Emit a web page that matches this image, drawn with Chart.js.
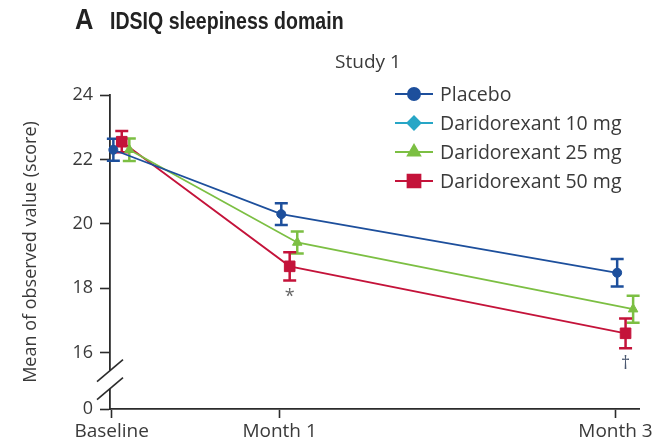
<!DOCTYPE html>
<html>
<head>
<meta charset="utf-8">
<title>IDSIQ sleepiness domain</title>
<script src="https://cdn.jsdelivr.net/npm/chart.js@4"></script>
<style>
  html, body { margin: 0; padding: 0; background: #fff; }
  #wrap { width: 663px; height: 448px; }
</style>
</head>
<body>
<div id="wrap"><canvas id="sleepChart" width="663" height="448"></canvas></div>
<script>
// Visits (months from baseline) and their labels
const visits = [0, 1, 3];
const visitLabels = ['Baseline', 'Month 1', 'Month 3'];

// Mean of observed value (score) and error bar half-length per visit
const placeboMean = [22.3, 20.3, 18.48];
const placeboErr = [0.34, 0.34, 0.43];
const dari10Mean = [];
const dari10Err = [];
const dari25Mean = [22.3, 19.42, 17.35];
const dari25Err = [0.35, 0.34, 0.42];
const dari50Mean = [22.55, 18.68, 16.6];
const dari50Err = [0.33, 0.44, 0.46];
const dari50Marks = ['', '*', '\u2020'];

// y axis ticks (axis is broken between 0 and 16)
const yTicks = [16, 18, 20, 22, 24];
const yZeroLabel = '0';

const FONT = "'Open Sans', sans-serif";
const TEXT = '#3a3a3a';
const AXIS = '#2b2b2b';
const Y_BOTTOM = 14.25; // where the "0" sits below the break

function points(mean, err, dodge) {
    return mean.map((v, i) => ({ x: visits[i] + dodge, y: v, err: err[i] }));
}

function makeSet(label, mean, err, color, style, radius, dodge) {
    return {
        label: label,
        data: points(mean, err, dodge),
        showLine: true,
        borderColor: color,
        backgroundColor: color,
        borderWidth: 1.8,
        pointStyle: style,
        pointRadius: radius,
        pointBorderWidth: 1,
        legendRadius: radius + 1.5,
        clip: false
    };
}

// draw text squeezed to a narrower width (condensed heading)
function squeezedText(ctx, text, x, y, sx) {
    ctx.save();
    ctx.translate(x, y);
    ctx.scale(sx, 1);
    ctx.fillText(text, 0, 0);
    ctx.restore();
}

// error bars with caps
const errorBars = {
    id: 'errorBars',
    beforeDatasetsDraw(chart) {
        const { ctx, scales: { x, y } } = chart;
        chart.data.datasets.forEach(ds => {
            ctx.save();
            ctx.strokeStyle = ds.borderColor;
            ctx.lineWidth = 2.5;
            ds.data.forEach(p => {
                const px = x.getPixelForValue(p.x);
                const top = y.getPixelForValue(p.y + p.err);
                const bot = y.getPixelForValue(p.y - p.err);
                ctx.beginPath();
                ctx.moveTo(px, top); ctx.lineTo(px, bot);
                ctx.moveTo(px - 6.5, top); ctx.lineTo(px + 6.5, top);
                ctx.moveTo(px - 6.5, bot); ctx.lineTo(px + 6.5, bot);
                ctx.stroke();
            });
            ctx.restore();
        });
    },
    afterDatasetsDraw(chart) {
        // significance marks under the 50 mg error bars
        const { ctx, scales: { x, y } } = chart;
        const ds = chart.data.datasets[3];
        ctx.save();
        ctx.font = '18px ' + FONT;
        ctx.textAlign = 'center';
        ctx.textBaseline = 'top';
        ds.data.forEach((p, i) => {
            if (!dari50Marks[i]) return;
            ctx.fillStyle = dari50Marks[i] === '*' ? '#666' : '#4b5870';
            ctx.fillText(dari50Marks[i], x.getPixelForValue(p.x), y.getPixelForValue(p.y - p.err) + 7);
        });
        ctx.restore();
    }
};

// titles, legend and the axis break
const decorations = {
    id: 'decorations',
    afterDraw(chart) {
        const { ctx, chartArea, scales: { y } } = chart;
        ctx.save();

        // title
        ctx.fillStyle = '#222';
        ctx.textBaseline = 'alphabetic';
        ctx.font = "bold 29px 'Liberation Sans', sans-serif";
        squeezedText(ctx, 'A', 75, 29, 0.88);
        ctx.font = "bold 23px 'Liberation Sans', sans-serif";
        squeezedText(ctx, 'IDSIQ sleepiness domain', 110, 29, 0.85);

        ctx.fillStyle = TEXT;
        ctx.font = '19px ' + FONT;
        ctx.textAlign = 'center';
        ctx.fillText('Study 1', 368, 68);

        // legend
        ctx.textAlign = 'left';
        ctx.textBaseline = 'middle';
        ctx.font = '19.5px ' + FONT;
        chart.data.datasets.forEach((ds, i) => {
            const ly = 94 + i * 29;
            ctx.strokeStyle = ds.borderColor;
            ctx.lineWidth = 2;
            ctx.beginPath();
            ctx.moveTo(395, ly); ctx.lineTo(433, ly);
            ctx.stroke();
            ctx.fillStyle = ds.backgroundColor;
            Chart.helpers.drawPoint(ctx, { pointStyle: ds.pointStyle, radius: ds.legendRadius, borderWidth: 1 }, 414, ly);
            ctx.fillStyle = TEXT;
            ctx.fillText(ds.label, 440, ly + 1);
        });

        // broken y axis between 0 and 16
        const left = chartArea.left;
        const y16 = y.getPixelForValue(yTicks[0]);
        ctx.fillStyle = '#fff';
        ctx.fillRect(left - 3, y16 + 18, 6, 18);
        ctx.strokeStyle = AXIS;
        ctx.lineWidth = 1.6;
        [18, 36].forEach(off => {
            ctx.beginPath();
            ctx.moveTo(left - 13, y16 + off + 11);
            ctx.lineTo(left + 13, y16 + off - 11);
            ctx.stroke();
        });
        ctx.restore();
    }
};

new Chart(document.getElementById('sleepChart'), {
    type: 'scatter',
    data: {
        datasets: [
            makeSet('Placebo', placeboMean, placeboErr, '#1d4f9c', 'circle', 4.5, 0.01),
            makeSet('Daridorexant 10 mg', dari10Mean, dari10Err, '#27a6c6', 'rectRot', 5, 0.03),
            makeSet('Daridorexant 25 mg', dari25Mean, dari25Err, '#7cbf43', 'triangle', 5.5, 0.105),
            makeSet('Daridorexant 50 mg', dari50Mean, dari50Err, '#c4133a', 'rect', 7.5, 0.06)
        ]
    },
    options: {
        responsive: false,
        animation: false,
        layout: { padding: { top: 95, right: 24, left: 0, bottom: 0 } },
        plugins: {
            legend: { display: false },
            tooltip: { enabled: false }
        },
        scales: {
            x: {
                type: 'linear',
                min: -0.01,
                max: 3.14,
                afterBuildTicks: s => { s.ticks = visits.map(v => ({ value: v })); },
                afterFit: s => { s.height = 39; },
                ticks: {
                    callback: v => visitLabels[visits.indexOf(v)],
                    font: { family: FONT, size: 19 },
                    color: TEXT,
                    padding: 2,
                    maxRotation: 0,
                    autoSkip: false
                },
                grid: { drawOnChartArea: false, tickLength: 9, tickWidth: 1.6, tickColor: AXIS },
                border: { color: AXIS, width: 1.8 }
            },
            y: {
                min: Y_BOTTOM,
                max: 24,
                afterBuildTicks: s => { s.ticks = [Y_BOTTOM, ...yTicks].map(v => ({ value: v })); },
                afterFit: s => { s.width = 110; },
                ticks: {
                    callback: v => v === Y_BOTTOM ? yZeroLabel : String(v),
                    font: { family: FONT, size: 18 },
                    color: TEXT,
                    padding: 7
                },
                grid: { drawOnChartArea: false, tickLength: 10, tickWidth: 1.6, tickColor: AXIS },
                border: { color: AXIS, width: 1.8 },
                title: {
                    display: true,
                    text: 'Mean of observed value (score)',
                    font: { family: FONT, size: 18 },
                    color: TEXT,
                    padding: { top: 20, bottom: 0 }
                }
            }
        }
    },
    plugins: [errorBars, decorations]
});
</script>
</body>
</html>
